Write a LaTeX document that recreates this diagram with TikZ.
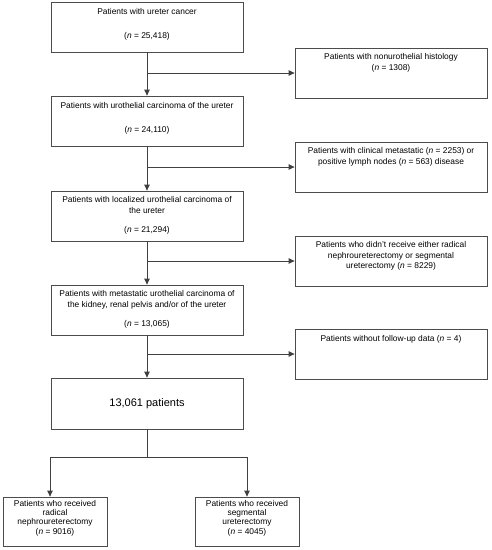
\documentclass[tikz,border=0pt]{standalone}
\usepackage{fontspec}
\setmainfont{Liberation Sans}
\usetikzlibrary{positioning,arrows.meta}

\begin{document}
\begin{tikzpicture}[x=1pt,y=-1pt]
      \tikzstyle{box}=[draw=black!70,line width=0.8pt,minimum width=192pt,minimum height=50pt,inner sep=0pt]
      \tikzstyle{endbox}=[box,minimum width=104pt,minimum height=49pt]
      \tikzstyle{txt}=[inner sep=0pt,align=center,font=\fontsize{8.4}{10.5}\selectfont]
      \tikzstyle{line}=[draw=black!75,line width=0.9pt]
      \tikzstyle{arrow}=[line,-{Triangle[length=6pt,width=5.5pt]}]
      \useasboundingbox (0,0) rectangle (492,550);
      % Main column
      \node (cancer) at (147,27) [box] {};
      \node (urothelial) at (147,121) [box] {};
      \node (localized) at (147,216) [box] {};
      \node (metastatic) at (147,310) [box] {};
      \node (total) at (147,403.5) [box,minimum height=51pt,font=\fontsize{11}{13}\selectfont] {13,061 patients};
      % Excluded patients
      \node (nonuro) at (391,73) [box] {};
      \node (clinical) at (391,167) [box] {};
      \node (surgery) at (391,261) [box] {};
      \node (followup) at (391,354) [box] {};
      % Treatment groups
      \node (radical) at (55,521.5) [endbox] {};
      \node (segmental) at (247,521.5) [endbox] {};
      % Box texts
      \node (cancer-txt) [txt,below=7pt of cancer.north] {Patients with ureter cancer\\[13.5pt](\textit{n} = 25,418)};
      \node (urothelial-txt) [txt,below=7pt of urothelial.north] {Patients with urothelial carcinoma of the ureter\\[13.5pt](\textit{n} = 24,110)};
      \node (localized-txt) [txt,below=6pt of localized.north] {Patients with localized urothelial carcinoma of\\the ureter\\[8.5pt](\textit{n} = 21,294)};
      \node (metastatic-txt) [txt,below=6pt of metastatic.north] {Patients with metastatic urothelial carcinoma of\\the kidney, renal pelvis and/or of the ureter\\[8.5pt](\textit{n} = 13,065)};
      \node (nonuro-txt) [txt,below=6pt of nonuro.north] {Patients with nonurothelial histology\\(\textit{n} = 1308)};
      \node (clinical-txt) [txt,below=6pt of clinical.north] {Patients with clinical metastatic (\textit{n} = 2253) or\\positive lymph nodes (\textit{n} = 563) disease};
      \node (surgery-txt) [txt,below=6pt of surgery.north] {Patients who didn't receive either radical\\nephroureterectomy or segmental\\ureterectomy (\textit{n} = 8229)};
      \node (followup-txt) [txt,below=6.5pt of followup.north] {Patients without follow-up data (\textit{n} = 4)};
      \node (radical-txt) [txt,below=3.5pt of radical.north,font=\fontsize{8.4}{9.3}\selectfont] {Patients who received\\radical\\nephroureterectomy\\(\textit{n} = 9016)};
      \node (segmental-txt) [txt,below=3.5pt of segmental.north,font=\fontsize{8.4}{9.3}\selectfont] {Patients who received\\segmental\\ureterectomy\\(\textit{n} = 4045)};
      % Flow down the main column
      \draw [arrow] (cancer) -- (urothelial);
      \draw [arrow] (urothelial) -- (localized);
      \draw [arrow] (localized) -- (metastatic);
      \draw [arrow] (metastatic) -- (total);
      % Exclusions to the right
      \draw [arrow] (cancer.south |- nonuro) -- (nonuro);
      \draw [arrow] (urothelial.south |- clinical) -- (clinical);
      \draw [arrow] (localized.south |- surgery) -- (surgery);
      \draw [arrow] (metastatic.south |- followup) -- (followup);
      % Split into the two operations
      \coordinate (split) at (147,457);
      \draw [line] (total) -- (split);
      \draw [arrow] (split) -| ([xshift=-5pt]radical.north);
      \draw [arrow] (split) -| (segmental.north);
\end{tikzpicture}
\end{document}
